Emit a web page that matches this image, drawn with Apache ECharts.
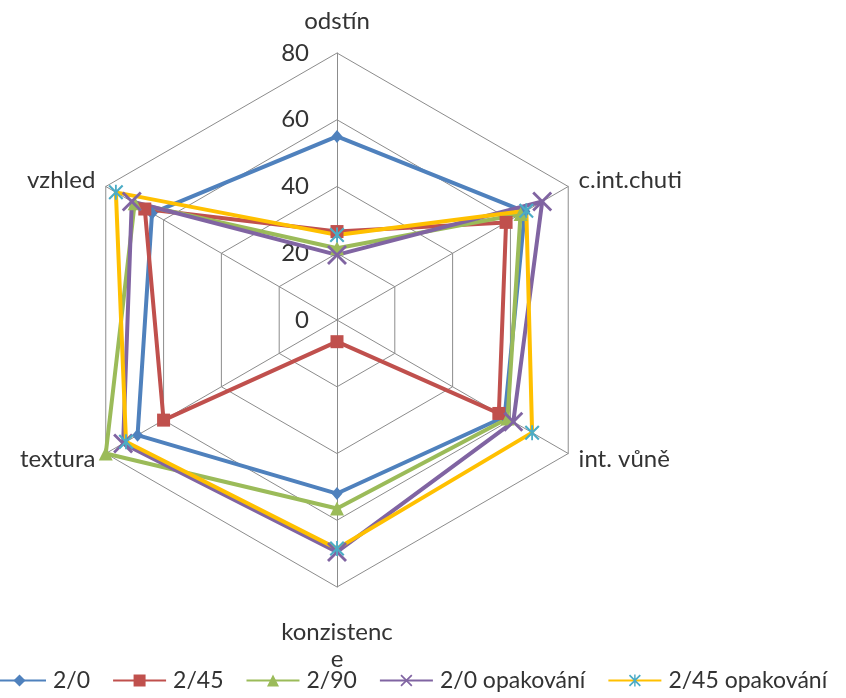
<!DOCTYPE html>
<html>
<head>
<meta charset="utf-8">
<script src="https://cdn.jsdelivr.net/npm/echarts@6/dist/echarts.min.js"></script>
<style>
  html, body { margin: 0; padding: 0; background: #ffffff; }
  #chart { width: 846px; height: 698px; }
</style>
</head>
<body>
<div id="chart"></div>
<script>
// Sensory attributes, listed clockwise starting from the top axis
const categories = ['odstín', 'c.int.chuti', 'int. vůně', 'konzistence', 'textura', 'vzhled'];
const tickValues = [0, 20, 40, 60, 80];

// Panel scores per sample, in the same order as categories
const seriesNames = ['2/0', '2/45', '2/90', '2/0 opakování', '2/45 opakování'];
const values_2_0 = [55, 65, 58, 52, 69, 64];
const values_2_45 = [26.5, 58.5, 56, 6.5, 60, 66.5];
const values_2_90 = [21.5, 63.5, 59, 56.5, 80, 70];
const values_2_0_rep = [19.5, 71, 61, 69.5, 74, 71];
const values_2_45_rep = [25.5, 65.5, 67.5, 68.5, 73, 76.5];

const FONT = 'Lato, "Open Sans", sans-serif';
const TEXT = '#333333';
const GRID = '#8c8c8c';

// Marker shapes drawn as filled outlines
const CROSS = 'path://M0,1 L1,0 L5,4 L9,0 L10,1 L6,5 L10,9 L9,10 L5,6 L1,10 L0,9 L4,5 Z';
const STAR = 'path://M0,1 L1,0 L5,4 L9,0 L10,1 L6,5 L10,9 L9,10 L5,6 L1,10 L0,9 L4,5 Z M4.4,0 L5.6,0 L5.6,10 L4.4,10 Z';

const styles = [
  { line: '#4F81BD', marker: '#4F81BD', symbol: 'diamond', size: [11, 13] },
  { line: '#C0504D', marker: '#C0504D', symbol: 'rect', size: 13 },
  { line: '#9BBB59', marker: '#9BBB59', symbol: 'triangle', size: 14 },
  { line: '#8064A2', marker: '#8064A2', symbol: CROSS, size: 20 },
  { line: '#FFC000', marker: '#4BACC6', symbol: STAR, size: 15 }
];
const seriesValues = [values_2_0, values_2_45, values_2_90, values_2_0_rep, values_2_45_rep];

// ECharts lays radar indicators out counter-clockwise, so walk the categories backwards after the first
const order = [0, 5, 4, 3, 2, 1];
const gaps = { 'odstín': 18, 'konzistence': 32 };

const indicators = order.map(function (i, k) {
  const ind = { name: categories[i], min: tickValues[0], max: tickValues[tickValues.length - 1] };
  if (gaps[categories[i]] != null) ind.nameGap = gaps[categories[i]];
  if (k === 0) ind.axisLabel = { show: true };
  return ind;
});

const radarData = seriesValues.map(function (vals, s) {
  return {
    name: seriesNames[s],
    value: order.map(function (i) { return vals[i]; }),
    symbol: styles[s].symbol,
    symbolSize: styles[s].size,
    lineStyle: { color: styles[s].line, width: 4 },
    itemStyle: { color: styles[s].marker }
  };
});

// Empty line series give the legend its line-with-marker keys
const legendKeys = seriesNames.map(function (n, s) {
  return {
    type: 'line',
    name: n,
    data: [],
    symbol: styles[s].symbol,
    lineStyle: { color: styles[s].line, width: 4 },
    itemStyle: { color: styles[s].marker }
  };
});

const chart = echarts.init(document.getElementById('chart'), null, { renderer: 'canvas' });
chart.setOption({
  animation: false,
  backgroundColor: '#ffffff',
  textStyle: { fontFamily: FONT },
  grid: { left: 0, top: 0, width: 1, height: 1, show: false },
  xAxis: { type: 'category', show: false },
  yAxis: { type: 'value', show: false },
  legend: {
    data: seriesNames,
    left: -8,
    top: 669,
    width: 1000,
    padding: 0,
    itemWidth: 53,
    itemHeight: 15,
    itemGap: 22,
    textStyle: { fontFamily: FONT, fontSize: 23, color: TEXT, padding: [0, 0, 0, 2] }
  },
  radar: {
    center: [337, 320],
    radius: 267,
    startAngle: 90,
    splitNumber: tickValues.length - 1,
    shape: 'polygon',
    nameGap: 12,
    axisName: {
      color: TEXT,
      fontFamily: FONT,
      fontSize: 24,
      lineHeight: 27,
      formatter: function (name) { return name === 'konzistence' ? 'konzistenc\ne' : name; }
    },
    indicator: indicators,
    axisLine: { lineStyle: { color: GRID, width: 1 } },
    splitLine: { lineStyle: { color: GRID, width: 1 } },
    splitArea: { show: false },
    axisTick: { show: false },
    axisLabel: {
      show: false,
      color: TEXT,
      fontFamily: FONT,
      fontSize: 24,
      margin: 28
    }
  },
  series: [{
    type: 'radar',
    data: radarData
  }].concat(legendKeys)
});
</script>
</body>
</html>
